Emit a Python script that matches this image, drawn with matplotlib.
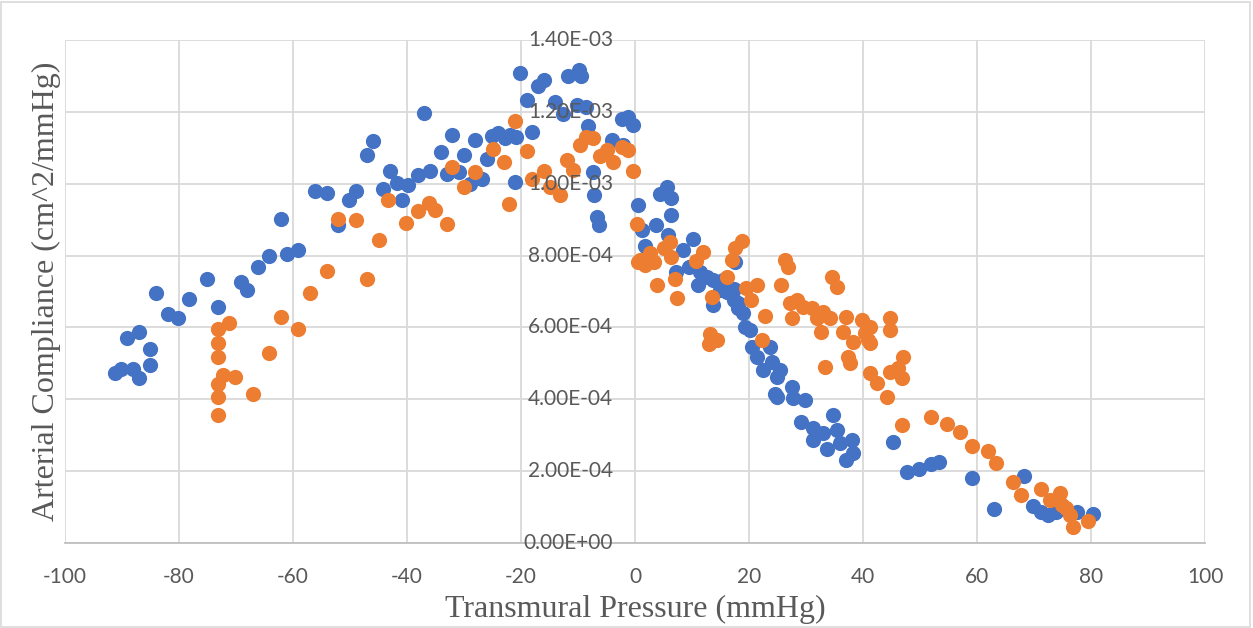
import matplotlib

matplotlib.use("Agg")

import matplotlib.pyplot as plt
import matplotlib.transforms as mtransforms
from matplotlib.patches import Rectangle

plt.rcParams["axes.unicode_minus"] = False

# series 1 (blue)
blue_pressure = [
    -91.2, -90.1, -88.1, -87.1, -85.1, -85.1, -89.1, -87.1, -84.1, -82.0,
    -80.1, -78.2, -75.1, -73.1, -69.1, -68.1, -66.1, -64.2, -61.1, -59.1,
    -62.1, -56.1, -54.0, -52.1, -50.1, -49.0, -44.2, -47.1, -46.0, -43.0,
    -41.8, -40.9, -39.9, -37.0, -38.0, -36.0, -34.1, -33.0, -32.1, -30.9,
    -30.0, -28.9, -28.1, -26.9, -26.0, -25.1, -24.0, -22.8, -21.9, -20.9,
    -18.0, -20.2, -19.0, -21.1, -17.1, -16.0, -14.0, -12.6, -11.7, -9.9,
    -9.4, -10.2, -8.6, -8.2, -7.3, -7.2, -6.7, -6.4, -4.1, -2.3,
    -1.2, -0.4, 0.6, -2.1, 1.2, 1.8, 3.7, 4.4, 5.6, 6.4,
    6.4, 5.8, 8.5, 7.2, 10.1, 9.4, 11.4, 11.1, 12.6, 13.7,
    15.5, 16.1, 17.3, 17.5, 18.1, 19.0, 13.7, 14.9, 16.7, 17.3,
    18.1, 19.3, 20.2, 20.5, 23.7, 21.4, 22.5, 24.0, 25.4, 24.9,
    24.6, 24.9, 27.5, 27.8, 29.8, 29.2, 31.3, 31.3, 33.0, 34.8,
    33.6, 35.4, 36.0, 38.0, 38.3, 37.1, 45.3, 47.7, 49.8, 51.9,
    53.4, 59.2, 63.0, 68.2, 69.9, 71.3, 72.5, 73.9, 77.5, 80.4,
]
blue_compliance = [
    4.73e-4, 4.83e-4, 4.83e-4, 4.60e-4, 4.95e-4, 5.39e-4, 5.70e-4, 5.88e-4, 6.97e-4, 6.36e-4,
    6.27e-4, 6.79e-4, 7.34e-4, 6.57e-4, 7.27e-4, 7.04e-4, 7.69e-4, 8.00e-4, 8.04e-4, 8.15e-4,
    9.03e-4, 9.80e-4, 9.73e-4, 8.85e-4, 9.56e-4, 9.79e-4, 9.84e-4, 1.081e-3, 1.118e-3, 1.036e-3,
    1.002e-3, 9.56e-4, 9.96e-4, 1.198e-3, 1.024e-3, 1.036e-3, 1.087e-3, 1.026e-3, 1.136e-3, 1.033e-3,
    1.081e-3, 1.000e-3, 1.121e-3, 1.014e-3, 1.070e-3, 1.132e-3, 1.140e-3, 1.126e-3, 1.135e-3, 1.129e-3,
    1.144e-3, 1.308e-3, 1.232e-3, 1.005e-3, 1.271e-3, 1.288e-3, 1.228e-3, 1.195e-3, 1.299e-3, 1.317e-3,
    1.299e-3, 1.218e-3, 1.214e-3, 1.160e-3, 1.033e-3, 9.68e-4, 9.08e-4, 8.85e-4, 1.121e-3, 1.181e-3,
    1.186e-3, 1.163e-3, 9.40e-4, 1.107e-3, 8.71e-4, 8.26e-4, 8.85e-4, 9.71e-4, 9.91e-4, 9.59e-4,
    9.12e-4, 8.57e-4, 8.15e-4, 7.55e-4, 8.45e-4, 7.69e-4, 7.55e-4, 7.18e-4, 7.41e-4, 6.62e-4,
    7.32e-4, 6.99e-4, 7.08e-4, 7.82e-4, 6.67e-4, 6.39e-4, 7.32e-4, 7.04e-4, 6.95e-4, 6.76e-4,
    6.53e-4, 6.02e-4, 5.92e-4, 5.46e-4, 5.46e-4, 5.18e-4, 4.81e-4, 5.04e-4, 4.81e-4, 4.63e-4,
    4.16e-4, 4.07e-4, 4.35e-4, 4.03e-4, 3.98e-4, 3.37e-4, 3.19e-4, 2.87e-4, 3.05e-4, 3.56e-4,
    2.63e-4, 3.14e-4, 2.77e-4, 2.87e-4, 2.50e-4, 2.31e-4, 2.82e-4, 1.98e-4, 2.05e-4, 2.20e-4,
    2.26e-4, 1.80e-4, 9.4e-5, 1.86e-4, 1.03e-4, 8.7e-5, 7.8e-5, 8.7e-5, 8.7e-5, 8.1e-5,
]

# series 2 (orange)
orange_pressure = [
    -73.1, -73.1, -73.1, -72.2, -70.1, -67.1, -73.1, -73.1, -73.1, -71.2,
    -64.2, -62.1, -59.1, -57.1, -54.1, -47.1, -52.1, -49.0, -45.0, -43.3,
    -40.1, -38.0, -36.1, -35.1, -33.0, -32.1, -30.0, -28.1, -25.0, -23.0,
    -22.1, -21.1, -19.0, -18.1, -16.0, -14.9, -13.2, -12.0, -10.9, -9.6,
    -8.6, -7.3, -6.1, -5.0, -3.8, -2.3, -1.2, -0.4, 0.3, 0.6,
    0.9, 1.8, 2.6, 3.3, 3.8, 5.0, 6.1, 6.4, 7.0, 7.4,
    10.7, 11.9, 13.5, 16.1, 17.0, 17.5, 18.7, 19.5, 21.4, 20.3,
    22.8, 25.7, 26.3, 26.9, 27.2, 28.4, 12.9, 13.2, 14.3, 22.2,
    27.5, 29.5, 31.0, 31.9, 33.0, 32.7, 34.2, 33.3, 34.5, 35.4,
    37.1, 36.5, 38.3, 37.4, 37.7, 39.8, 41.2, 40.9, 44.7, 44.7,
    41.2, 42.4, 44.2, 44.7, 47.1, 46.8, 46.8, 40.4, 41.2, 46.2,
    52.0, 54.7, 57.0, 59.1, 62.0, 63.3, 66.3, 67.8, 71.2, 72.8,
    74.6, 74.9, 75.6, 76.3, 76.8, 79.4,
]
orange_compliance = [
    3.56e-4, 4.05e-4, 4.42e-4, 4.67e-4, 4.61e-4, 4.16e-4, 5.18e-4, 5.58e-4, 5.97e-4, 6.11e-4,
    5.29e-4, 6.28e-4, 5.95e-4, 6.96e-4, 7.57e-4, 7.34e-4, 9.01e-4, 8.98e-4, 8.43e-4, 9.54e-4,
    8.92e-4, 9.23e-4, 9.47e-4, 9.26e-4, 8.89e-4, 1.047e-3, 9.91e-4, 1.033e-3, 1.096e-3, 1.061e-3,
    9.43e-4, 1.175e-3, 1.090e-3, 1.014e-3, 1.036e-3, 9.91e-4, 9.68e-4, 1.067e-3, 1.039e-3, 1.107e-3,
    1.129e-3, 1.126e-3, 1.077e-3, 1.095e-3, 1.061e-3, 1.102e-3, 1.093e-3, 1.036e-3, 8.89e-4, 7.82e-4,
    7.87e-4, 7.73e-4, 8.06e-4, 7.82e-4, 7.18e-4, 8.22e-4, 8.38e-4, 7.95e-4, 7.36e-4, 6.81e-4,
    7.85e-4, 8.10e-4, 6.85e-4, 7.41e-4, 7.87e-4, 8.20e-4, 8.41e-4, 7.11e-4, 7.18e-4, 6.76e-4,
    6.32e-4, 7.18e-4, 7.87e-4, 7.67e-4, 6.67e-4, 6.76e-4, 5.55e-4, 5.83e-4, 5.65e-4, 5.65e-4,
    6.25e-4, 6.57e-4, 6.53e-4, 6.25e-4, 6.43e-4, 5.88e-4, 6.25e-4, 4.90e-4, 7.41e-4, 7.13e-4,
    6.30e-4, 5.88e-4, 5.60e-4, 5.18e-4, 5.00e-4, 6.20e-4, 6.02e-4, 5.65e-4, 6.25e-4, 5.92e-4,
    4.72e-4, 4.44e-4, 4.07e-4, 4.77e-4, 5.18e-4, 4.58e-4, 3.28e-4, 5.85e-4, 5.56e-4, 4.86e-4,
    3.51e-4, 3.30e-4, 3.08e-4, 2.70e-4, 2.57e-4, 2.24e-4, 1.71e-4, 1.34e-4, 1.49e-4, 1.20e-4,
    1.38e-4, 1.06e-4, 9.7e-5, 7.8e-5, 4.5e-5, 6.2e-5,
]

x_ticks = [-100, -80, -60, -40, -20, 0, 20, 40, 60, 80, 100]
y_ticks = [0.0, 2.0e-4, 4.0e-4, 6.0e-4, 8.0e-4, 1.0e-3, 1.2e-3, 1.4e-3]

BLUE = "#4472C4"
ORANGE = "#ED7D31"
GRID = "#D9D9D9"
LABEL = "#595959"

fig = plt.figure(figsize=(12.53, 6.28), dpi=100)
fig.patch.set_facecolor("white")
ax = fig.add_axes([65 / 1253, 85 / 628, 1140 / 1253, 503 / 628])

ax.scatter(blue_pressure, blue_compliance, s=120, color=BLUE, linewidths=0, zorder=2)
ax.scatter(orange_pressure, orange_compliance, s=120, color=ORANGE, linewidths=0, zorder=3)

ax.set_xlim(-100, 100)
ax.set_ylim(0, 1.4e-3)
ax.set_xticks(x_ticks)
ax.set_yticks(y_ticks)
ax.set_axisbelow(True)
ax.grid(True, color=GRID, linewidth=1.3)
ax.tick_params(length=0)
ax.tick_params(axis="x", labelsize=15, labelcolor=LABEL, pad=17)
ax.tick_params(axis="y", labelleft=False)
for lab in ax.get_xticklabels():
    lab.set_fontfamily("Lato")

for side in ["top", "left", "right"]:
    ax.spines[side].set_visible(False)
ax.spines["bottom"].set_color("#BFBFBF")
ax.spines["bottom"].set_linewidth(1.3)

# y tick labels sit on the vertical axis at x = 0, drawn above the markers
offset = mtransforms.ScaledTranslation(-22 / 100, 0, fig.dpi_scale_trans)
for v in y_ticks:
    ax.text(0, v, f"{v:.2E}", transform=ax.transData + offset, ha="right", va="center",
            fontsize=15, color=LABEL, family="Lato", zorder=5)

ax.set_xlabel("Transmural Pressure (mmHg)", family="Liberation Serif", fontsize=23,
              color=LABEL, labelpad=6)
fig.text(46 / 1253, 0.5 * (628 - 40 + 628 - 543) / 628, "Arterial Compliance (cm^2/mmHg)",
         rotation=90, ha="center", va="center", family="Liberation Serif", fontsize=23,
         color=LABEL)

fig.patches.append(Rectangle((0.001, 0.002), 0.997, 0.995, transform=fig.transFigure,
                             fill=False, edgecolor=GRID, linewidth=1.2))

fig.savefig("out.png", dpi=100, facecolor="white")
